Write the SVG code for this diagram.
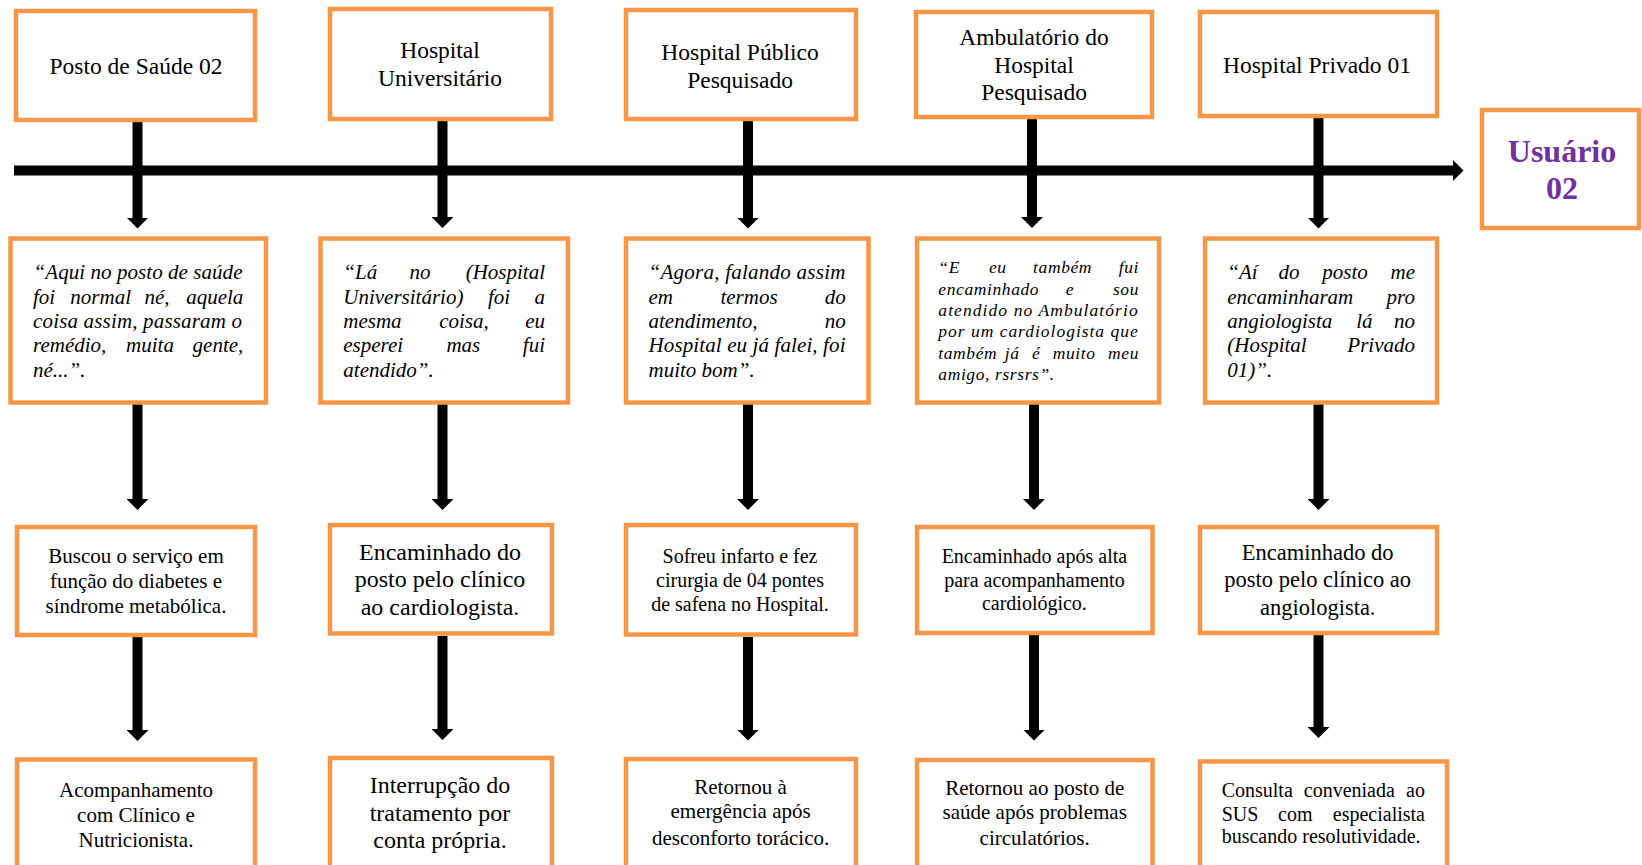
<svg xmlns="http://www.w3.org/2000/svg" width="1642" height="865" viewBox="0 0 1642 865">
<defs>
<marker id="ah" markerUnits="userSpaceOnUse" viewBox="0 -11 11 22" markerWidth="11" markerHeight="22" refX="0.5" refY="0" orient="auto">
<path d="M0,-11 L11,0 L0,11 Z" fill="#000"/>
</marker>
<style>
.box{fill:#fff;stroke:#F79646;stroke-width:4.5}
.t{font-family:"Liberation Serif","Times New Roman",serif;fill:#000}
.c{text-anchor:middle}
.h{font-size:23.5px}
.q{font-style:italic;font-size:21px}
.q4{font-style:italic;font-size:17.5px;letter-spacing:0.6px}
.s{text-anchor:start}
.m{text-anchor:middle}
.e{text-anchor:end}
.conn{stroke:#000;stroke-width:10;fill:none;marker-end:url(#ah)}
.u{font-family:"Liberation Serif","Times New Roman",serif;font-weight:bold;font-size:32px;fill:#7030A0;text-anchor:middle}
</style>
</defs>
<rect width="1642" height="865" fill="#fff"/>

<g id="connectors">
<path class="conn" d="M14,170.5 H1453"/>
<path class="conn" d="M137.5,122 V218"/>
<path class="conn" d="M137.5,404 V499.5"/>
<path class="conn" d="M137.5,637 V730.5"/>
<path class="conn" d="M442.5,120 V217.5"/>
<path class="conn" d="M442.5,404 V499.5"/>
<path class="conn" d="M442.5,636 V729.5"/>
<path class="conn" d="M748,120 V218"/>
<path class="conn" d="M748,404 V499.5"/>
<path class="conn" d="M748,637 V730"/>
<path class="conn" d="M1032,119 V217.5"/>
<path class="conn" d="M1034,404 V499.5"/>
<path class="conn" d="M1034,635 V730"/>
<path class="conn" d="M1318.5,118 V218"/>
<path class="conn" d="M1318.5,404 V499.5"/>
<path class="conn" d="M1318.5,635 V727.5"/>
</g>

<g id="n-posto">
<rect class="box" x="16" y="11" width="239" height="109"/>
<text class="t h c" x="136" y="74">Posto de Saúde 02</text>
</g>
<g id="n-hu">
<rect class="box" x="330" y="9" width="221" height="110"/>
<text class="t h c" x="440" y="58">Hospital</text>
<text class="t h c" x="440" y="86">Universitário</text>
</g>
<g id="n-hpp">
<rect class="box" x="626" y="10" width="230" height="109"/>
<text class="t h c" x="740" y="60">Hospital Público</text>
<text class="t h c" x="740" y="87.5">Pesquisado</text>
</g>
<g id="n-amb">
<rect class="box" x="916" y="12" width="236" height="105"/>
<text class="t h c" x="1034" y="45">Ambulatório do</text>
<text class="t h c" x="1034" y="72.5">Hospital</text>
<text class="t h c" x="1034" y="100">Pesquisado</text>
</g>
<g id="n-hpriv">
<rect class="box" x="1200" y="12" width="237" height="104"/>
<text class="t h c" x="1317" y="72.5">Hospital Privado 01</text>
</g>
<g id="n-usuario">
<rect class="box" x="1482" y="110" width="157" height="118"/>
<text class="u" x="1562" y="161.5">Usuário</text>
<text class="u" x="1562" y="199">02</text>
</g>

<g id="q-posto">
<rect class="box" x="10.5" y="238.5" width="255.5" height="164"/>
<text class="t q" x="33.5" y="278.5" textLength="209" lengthAdjust="spacing">“Aqui no posto de saúde</text>
<text class="t q" y="303.5"><tspan class="s" x="33">foi</tspan><tspan class="m" x="100.7">normal</tspan><tspan class="m" x="157">né,</tspan><tspan class="e" x="243.3">aquela</tspan></text>
<text class="t q" x="33" y="327.5" textLength="209" lengthAdjust="spacing">coisa assim, passaram o</text>
<text class="t q" y="352"><tspan class="s" x="33">remédio,</tspan><tspan class="m" x="150">muita</tspan><tspan class="e" x="243.3">gente,</tspan></text>
<text class="t q" x="33" y="376.5">né...”.</text>
</g>

<g id="q-hu">
<rect class="box" x="320.5" y="238.5" width="247.5" height="164"/>
<text class="t q" y="278.5"><tspan class="s" x="343.3">“Lá</tspan><tspan class="m" x="420">no</tspan><tspan class="e" x="545">(Hospital</tspan></text>
<text class="t q" y="303.5"><tspan class="s" x="343.3">Universitário)</tspan><tspan class="m" x="499">foi</tspan><tspan class="e" x="545">a</tspan></text>
<text class="t q" y="327.5"><tspan class="s" x="343.3">mesma</tspan><tspan class="m" x="464">coisa,</tspan><tspan class="e" x="545">eu</tspan></text>
<text class="t q" y="352"><tspan class="s" x="343.3">esperei</tspan><tspan class="m" x="463.3">mas</tspan><tspan class="e" x="545">fui</tspan></text>
<text class="t q" x="343.3" y="376.5">atendido”.</text>
</g>

<g id="q-hpp">
<rect class="box" x="626" y="238.5" width="242.5" height="164"/>
<text class="t q" x="648.5" y="278.5" textLength="197" lengthAdjust="spacing">“Agora, falando assim</text>
<text class="t q" y="303.5"><tspan class="s" x="648.5">em</tspan><tspan class="m" x="749">termos</tspan><tspan class="e" x="845.7">do</tspan></text>
<text class="t q" y="327.5"><tspan class="s" x="648.5">atendimento,</tspan><tspan class="e" x="845.7">no</tspan></text>
<text class="t q" x="648.5" y="352" textLength="197" lengthAdjust="spacing">Hospital eu já falei, foi</text>
<text class="t q" x="648.5" y="376.5">muito bom”.</text>
</g>

<g id="q-amb">
<rect class="box" x="917" y="238.5" width="242" height="164"/>
<text class="t q4" y="273.3"><tspan class="s" x="938.3">“E</tspan><tspan class="m" x="997.8">eu</tspan><tspan class="m" x="1062.6">também</tspan><tspan class="e" x="1139">fui</tspan></text>
<text class="t q4" y="295"><tspan class="s" x="938.3">encaminhado</tspan><tspan class="m" x="1070">e</tspan><tspan class="e" x="1139">sou</tspan></text>
<text class="t q4" x="938.3" y="316" textLength="200" lengthAdjust="spacing">atendido no Ambulatório</text>
<text class="t q4" x="938.3" y="337.3" textLength="200" lengthAdjust="spacing">por um cardiologista que</text>
<text class="t q4" y="359"><tspan class="s" x="938.3">também</tspan><tspan class="m" x="1012.1">já</tspan><tspan class="m" x="1036.1">é</tspan><tspan class="m" x="1074.2">muito</tspan><tspan class="e" x="1139">meu</tspan></text>
<text class="t q4" x="938.3" y="380">amigo, rsrsrs”.</text>
</g>

<g id="q-hpriv">
<rect class="box" x="1205" y="238.5" width="232" height="164"/>
<text class="t q" y="278.5"><tspan class="s" x="1227.3">“Aí</tspan><tspan class="m" x="1289">do</tspan><tspan class="m" x="1345">posto</tspan><tspan class="e" x="1415">me</tspan></text>
<text class="t q" y="303.5"><tspan class="s" x="1227.3">encaminharam</tspan><tspan class="e" x="1415">pro</tspan></text>
<text class="t q" y="327.5"><tspan class="s" x="1227.3">angiologista</tspan><tspan class="m" x="1364.3">lá</tspan><tspan class="e" x="1415">no</tspan></text>
<text class="t q" y="352"><tspan class="s" x="1227.3">(Hospital</tspan><tspan class="e" x="1415">Privado</tspan></text>
<text class="t q" x="1227.3" y="376.5">01)”.</text>
</g>

<g id="r3-posto">
<rect class="box" x="17" y="527" width="238" height="108"/>
<text class="t c" font-size="21" x="136" y="563.3">Buscou o serviço em</text>
<text class="t c" font-size="21" x="136" y="588.3">função do diabetes e</text>
<text class="t c" font-size="21" x="136" y="613.3">síndrome metabólica.</text>
</g>
<g id="r3-hu">
<rect class="box" x="330" y="525" width="222" height="108.5"/>
<text class="t c" font-size="24" x="440" y="560">Encaminhado do</text>
<text class="t c" font-size="24" x="440" y="587.3">posto pelo clínico</text>
<text class="t c" font-size="24" x="440" y="615">ao cardiologista.</text>
</g>
<g id="r3-hpp">
<rect class="box" x="626" y="525" width="230" height="109.5"/>
<text class="t c" font-size="20" x="740" y="563.3">Sofreu infarto e fez</text>
<text class="t c" font-size="20" x="740" y="587.3">cirurgia de 04 pontes</text>
<text class="t c" font-size="20" x="740" y="611">de safena no Hospital.</text>
</g>
<g id="r3-amb">
<rect class="box" x="917" y="527" width="235.5" height="106"/>
<text class="t c" font-size="20" x="1034.4" y="563.3">Encaminhado após alta</text>
<text class="t c" font-size="20" x="1034.4" y="587.3">para acompanhamento</text>
<text class="t c" font-size="20" x="1034.4" y="610">cardiológico.</text>
</g>
<g id="r3-hpriv">
<rect class="box" x="1200" y="527" width="237" height="106"/>
<text class="t c" font-size="22.5" x="1317.7" y="560">Encaminhado do</text>
<text class="t c" font-size="22.5" x="1317.7" y="587.3">posto pelo clínico ao</text>
<text class="t c" font-size="22.5" x="1317.7" y="615">angiologista.</text>
</g>

<g id="r4-posto">
<rect class="box" x="17" y="759.5" width="238" height="130"/>
<text class="t c" font-size="21" x="136" y="796.7">Acompanhamento</text>
<text class="t c" font-size="21" x="136" y="821.7">com Clínico e</text>
<text class="t c" font-size="21" x="136" y="846.7">Nutricionista.</text>
</g>
<g id="r4-hu">
<rect class="box" x="330" y="758" width="222" height="130"/>
<text class="t c" font-size="24" x="440" y="793.3">Interrupção do</text>
<text class="t c" font-size="24" x="440" y="820.7">tratamento por</text>
<text class="t c" font-size="24" x="440" y="848.3">conta própria.</text>
</g>
<g id="r4-hpp">
<rect class="box" x="626" y="759" width="230" height="130"/>
<text class="t c" font-size="21" x="740.6" y="794">Retornou à</text>
<text class="t c" font-size="21" x="740.6" y="818.3">emergência após</text>
<text class="t c" font-size="21" x="740.6" y="845">desconforto torácico.</text>
</g>
<g id="r4-amb">
<rect class="box" x="917" y="760" width="235.5" height="130"/>
<text class="t c" font-size="21" x="1034.7" y="795">Retornou ao posto de</text>
<text class="t c" font-size="21" x="1034.7" y="819.3">saúde após problemas</text>
<text class="t c" font-size="21" x="1034.7" y="845">circulatórios.</text>
</g>
<g id="r4-hpriv">
<rect class="box" x="1200" y="761.5" width="247" height="130"/>
<text class="t" font-size="20" y="796.7"><tspan class="s" x="1221.7">Consulta</tspan><tspan class="m" x="1349.3">conveniada</tspan><tspan class="e" x="1425">ao</tspan></text>
<text class="t" font-size="20" y="820.7"><tspan class="s" x="1221.7">SUS</tspan><tspan class="m" x="1295.3">com</tspan><tspan class="e" x="1425">especialista</tspan></text>
<text class="t" font-size="20" x="1221.7" y="843.3">buscando resolutividade.</text>
</g>
</svg>
